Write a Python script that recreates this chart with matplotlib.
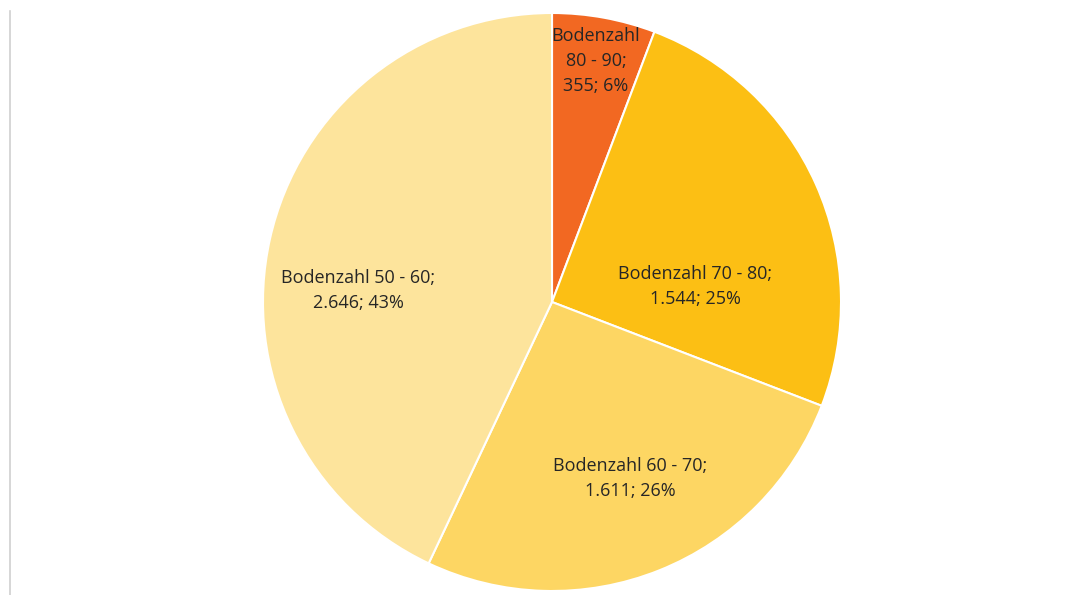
import matplotlib
matplotlib.use("Agg")
import matplotlib.pyplot as plt
from matplotlib.lines import Line2D

categories = ["Bodenzahl 80 - 90", "Bodenzahl 70 - 80", "Bodenzahl 60 - 70", "Bodenzahl 50 - 60"]
values = [355, 1544, 1611, 2646]
value_labels = ["355", "1.544", "1.611", "2.646"]
colors = ["#F26822", "#FCBF14", "#FDD663", "#FDE49C"]

# label texts (Excel-style wrapping)
label_texts = [
    "Bodenzahl\n80 - 90;\n355; 6%",
    "Bodenzahl 70 - 80;\n1.544; 25%",
    "Bodenzahl 60 - 70;\n1.611; 26%",
    "Bodenzahl 50 - 60;\n2.646; 43%",
]
label_pos = [(0.152, 0.834), (0.495, 0.055), (0.27, -0.61), (-0.67, 0.04)]

W, H = 1085, 595
fig = plt.figure(figsize=(W / 100, H / 100), dpi=100)
cx, cy, r = 552, 302, 289
ax = fig.add_axes([(cx - r) / W, (H - cy - r) / H, 2 * r / W, 2 * r / H])
ax.pie(values, colors=colors, startangle=90, counterclock=False, radius=1,
       wedgeprops=dict(edgecolor="white", linewidth=1.5))
ax.set_xlim(-1, 1)
ax.set_ylim(-1, 1)
ax.set_aspect("equal")
ax.axis("off")

for txt, (x, y) in zip(label_texts, label_pos):
    ax.text(x, y, txt, ha="center", va="center", fontsize=13,
            family="Open Sans", color="#262626", linespacing=1.5)

fig.add_artist(Line2D([10 / W, 10 / W], [0, 1 - 11 / H], transform=fig.transFigure,
                      color="#d0d0d0", linewidth=1.2))

fig.savefig("out.png", dpi=100)
